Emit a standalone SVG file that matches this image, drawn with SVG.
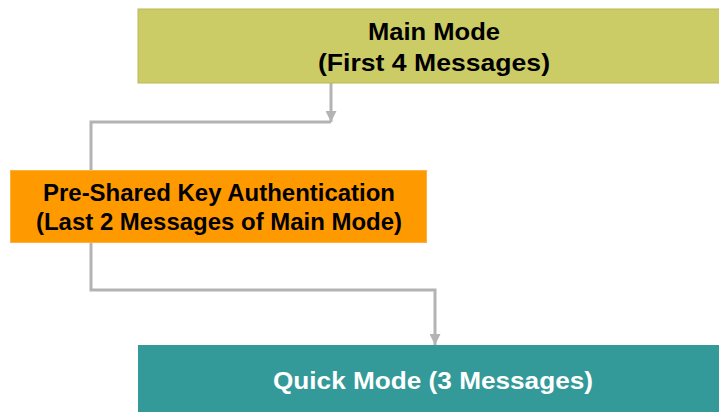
<svg xmlns="http://www.w3.org/2000/svg" width="719" height="412" viewBox="0 0 719 412">
  <style>
    .lbl { font-family: "Liberation Sans", Arial, Helvetica, sans-serif; font-weight: bold; font-size: 24px; text-anchor: middle; }
    .dark { fill: #000000; }
    .light { fill: #ffffff; }
    .wire { fill: none; stroke: #b3b3b3; stroke-width: 3; stroke-linejoin: miter; }
  </style>
  <defs>
    <marker id="head" viewBox="0 0 10 10" refX="10" refY="5" markerWidth="11" markerHeight="11" markerUnits="userSpaceOnUse" orient="auto">
      <path d="M0,0 L10,5 L0,10 Z" fill="#b3b3b3"/>
    </marker>
  </defs>
  <rect width="719" height="412" fill="#ffffff"/>

  <g id="connectors">
    <path class="wire" d="M331,83 V122" marker-end="url(#head)"/>
    <path class="wire" d="M331,122 H91 V170"/>
    <path class="wire" d="M91,243 V290 H435 V345" marker-end="url(#head)"/>
  </g>

  <g id="main-mode">
    <rect x="138" y="9" width="600" height="74" fill="#cccc66" stroke="#b8b858" stroke-width="1"/>
    <text class="lbl dark" x="434" y="40" textLength="132" lengthAdjust="spacingAndGlyphs">Main Mode</text>
    <text class="lbl dark" x="434" y="71" textLength="232" lengthAdjust="spacingAndGlyphs">(First 4 Messages)</text>
  </g>

  <g id="psk-auth">
    <rect x="10.5" y="170.5" width="416" height="72" fill="#ff9900" stroke="#ffb040" stroke-width="1"/>
    <text class="lbl dark" x="219" y="201" textLength="352" lengthAdjust="spacingAndGlyphs">Pre-Shared Key Authentication</text>
    <text class="lbl dark" x="219" y="230" textLength="366" lengthAdjust="spacingAndGlyphs">(Last 2 Messages of Main Mode)</text>
  </g>

  <g id="quick-mode">
    <rect x="138" y="345" width="600" height="80" fill="#339999"/>
    <text class="lbl light" x="433" y="389" textLength="320" lengthAdjust="spacingAndGlyphs">Quick Mode (3 Messages)</text>
  </g>
</svg>
